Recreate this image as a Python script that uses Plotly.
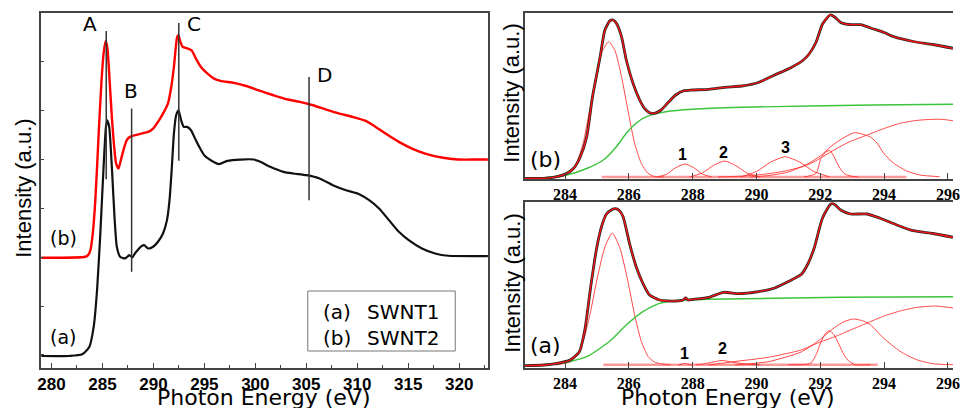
import plotly.graph_objects as go

# ---------------- Left panel: NEXAFS spectra (photon energy in eV, intensity a.u.) ----------------
ev_a = [279.0, 281.71, 283.01, 283.72, 284.14, 284.47, 284.79, 285.11, 285.34, 285.47, 285.66, 285.92,
        286.18, 286.41, 286.73, 287.22, 287.64, 287.93, 288.19, 288.51, 288.83, 289.09, 289.48, 289.97,
        290.45, 290.94, 291.33, 291.58, 291.81, 292.01, 292.23, 292.46, 292.72, 292.98, 293.30, 293.69,
        294.01, 294.50, 294.98, 295.63, 296.44, 297.25, 298.54, 299.84, 300.49, 301.46, 302.75, 303.72,
        305.02, 306.31, 307.60, 308.90, 310.19, 311.17, 312.14, 313.11, 314.08, 315.05, 316.35, 317.64,
        318.93, 321.84, 323.0]
int_a = [36, 36, 41, 64, 124, 234, 404, 604, 724, 744, 724, 604,
         454, 364, 334, 329, 339, 332, 344, 356, 366, 369, 359, 364,
         379, 404, 444, 504, 604, 704, 759, 774, 744, 724, 724, 714,
         694, 664, 639, 624, 612, 622, 626, 626, 619, 604, 589, 584,
         579, 569, 549, 534, 522, 504, 479, 444, 409, 384, 359, 344,
         337, 336, 336]

ev_b = [279.0, 283.33, 283.59, 283.82, 284.05, 284.30, 284.63, 284.89, 285.11, 285.31, 285.47, 285.66,
        285.92, 286.15, 286.34, 286.57, 286.80, 287.06, 287.38, 287.70, 288.19, 288.83, 289.48, 289.97,
        290.45, 290.94, 291.42, 291.75, 292.01, 292.20, 292.33, 292.46, 292.65, 292.88, 293.37, 293.75,
        294.17, 294.66, 295.31, 295.95, 296.60, 297.90, 299.19, 300.49, 301.78, 303.07, 304.37, 305.66,
        306.96, 308.25, 309.55, 310.84, 311.81, 312.78, 314.08, 315.37, 316.67, 318.28, 319.90, 321.84,
        323.0]
int_b = [331, 334, 339, 354, 404, 504, 704, 854, 944, 982, 964, 884,
         754, 664, 614, 599, 624, 654, 684, 694, 699, 704, 709, 719,
         739, 764, 794, 844, 904, 964, 994, 999, 979, 964, 959, 954,
         929, 904, 884, 869, 862, 856, 846, 832, 819, 807, 799, 789,
         776, 764, 754, 742, 724, 704, 679, 659, 644, 632, 626, 626,
         626]

marker_ev = [285.37, 287.86, 292.49, 305.27]
marker_labels = ["A", "B", "C", "D"]
sample_labels = ["(a)", "(b)"]
sample_names = ["SWNT1", "SWNT2"]

# ---------------- Right top panel (b): spectrum, background step, fitted components ----------------
ev_top = [282.72, 283.34, 283.75, 284.06, 284.27, 284.48, 284.68, 284.86, 285.10, 285.25, 285.41, 285.51,
          285.61, 285.77, 285.92, 286.13, 286.34, 286.49, 286.65, 286.80, 287.01, 287.21, 287.47, 287.73,
          287.99, 288.51, 289.02, 289.54, 290.06, 290.57, 291.09, 291.45, 291.65, 291.87, 292.07, 292.31,
          292.45, 292.64, 292.90, 293.26, 293.67, 294.00, 294.30, 294.91, 295.53, 296.16]
int_top = [0.5, 0.7, 2.3, 5.7, 10.7, 22.3, 42.3, 82, 122.3, 149, 158.3, 159,
           155.7, 142.3, 119, 95.7, 79, 70.7, 66.3, 65.7, 69, 75.7, 84, 88.3,
           89, 89.7, 91.7, 93, 96.5, 104, 111.5, 118.5, 125, 137, 155, 164,
           162, 156.5, 154.5, 154.3, 150, 146.5, 142.3, 137.5, 134.5, 130.7]
bg_ev_top = [282.72, 283.34, 284.06, 284.68, 285.20, 285.61, 285.92, 286.13, 286.44, 286.75, 287.16,
             287.99, 289.54, 291.61, 293.67, 296.16]
bg_top = [0.5, 1.3, 4, 10.5, 19, 32.3, 45.7, 53, 60.7, 64.7, 67.3, 69.7, 71.7, 73, 74, 74.7]

comp_top = [
    ([283.6, 283.94, 284.16, 284.36, 284.57, 284.77, 284.97, 285.17, 285.37, 285.57, 285.77, 285.97,
      286.18, 286.39, 286.6, 286.8, 287.1],
     [2, 2.5, 6, 16, 36, 69, 102, 128, 137.3, 128, 102.3, 69, 35.7, 15.7, 5.7, 2.5, 2]),
    ([286.9, 287.2, 287.45, 287.76, 288.05, 288.3, 288.6], [2, 5, 11, 15, 11, 5, 2]),
    ([287.9, 288.3, 288.65, 289.0, 289.35, 289.7, 290.1], [2, 6, 13.5, 18, 13.5, 6, 2]),
    ([289.5, 290.0, 290.45, 290.9, 291.35, 291.8, 292.3], [2, 7.5, 17, 22.3, 17, 7.5, 2]),
    ([291.5, 291.87, 292.02, 292.18, 292.31, 292.43, 292.59, 292.74, 292.90, 293.2],
     [2, 5.7, 20.7, 27.3, 28.3, 22.3, 12.3, 5.7, 3.3, 2]),
    ([289.8, 290.4, 291.0, 291.6, 292.0, 292.43, 293.07, 293.57, 293.78, 293.98, 294.29, 294.71,
      295.12, 295.74],
     [2, 3.5, 7, 15, 23, 35, 46.3, 42, 36, 26, 16, 8, 4, 2.3]),
    ([288.8, 289.6, 290.3, 290.9, 291.5, 291.81, 292.43, 292.9, 293.47, 294.0, 294.5, 295.0, 295.4,
      295.79, 296.16],
     [2, 3, 5, 8, 13, 17.3, 29, 37, 44, 50.5, 55.7, 58.5, 59.5, 59.7, 58.3]),
]
base_ev_top = [285.15, 294.7]
base_top = [2, 2]
peak_ids_top = ["1", "2", "3"]

# ---------------- Right bottom panel (a) ----------------
ev_bot = [282.72, 283.34, 283.75, 284.16, 284.45, 284.62, 284.80, 284.98, 285.15, 285.30, 285.45, 285.58,
          285.70, 285.82, 286.02, 286.23, 286.44, 286.65, 286.96, 287.47, 287.70, 287.78, 287.86, 287.99,
          288.51, 288.97, 289.44, 290.06, 290.57, 291.00, 291.40, 291.61, 291.81, 292.07, 292.33, 292.43,
          292.64, 292.95, 293.47, 293.88, 294.40, 294.91, 295.53, 296.16]
int_bot = [2.3, 3, 4.7, 8, 16.3, 38, 80, 118, 142, 154, 158, 159.3,
           157.5, 151.3, 124.7, 101.3, 84.7, 73, 68, 67, 68, 70, 68, 68.5,
           70.7, 75.7, 74.3, 76.3, 80, 86.5, 93.5, 104, 120, 150, 164, 164,
           158, 154, 154, 149.7, 143, 137.3, 134.5, 130.7]
bg_ev_bot = [282.72, 283.86, 284.68, 285.41, 285.92, 286.44, 286.96, 287.47, 288.51, 290.57, 292.64, 296.16]
bg_bot = [2.3, 4.7, 11.3, 27, 43, 56.3, 64.7, 67.3, 68.7, 69.7, 70.7, 71.3]

comp_bot = [
    ([283.7, 283.96, 284.16, 284.36, 284.57, 284.78, 284.99, 285.24, 285.48, 285.72, 285.97, 286.18,
      286.39, 286.6, 286.8, 287.0, 287.3],
     [3, 4.3, 6, 11.7, 26.7, 53.3, 86.7, 120, 135, 120, 86.7, 53.3, 26.7, 11.7, 6, 4.3, 3]),
    ([287.55, 287.68, 287.76, 287.84, 287.97], [3, 4, 4.8, 4, 3]),
    ([288.1, 288.5, 288.92, 289.3, 289.7, 290.1], [3, 5, 7.5, 5.5, 3.8, 3]),
    ([291.0, 291.5, 291.71, 291.87, 292.02, 292.15, 292.28, 292.43, 292.59, 292.74, 292.90, 293.1, 293.57],
     [3.3, 3.5, 5, 13.3, 26, 34, 37.3, 33.3, 23.3, 13.3, 6.7, 3.3, 3.3]),
    ([289.33, 290.37, 291.40, 291.92, 292.43, 292.75, 293.05, 293.35, 293.57, 293.98, 294.5, 295.02,
      295.53, 296.16],
     [3, 6.3, 16, 26.7, 40, 46.5, 49, 47, 43.3, 30, 16.7, 8.3, 4.3, 3.3]),
    ([288.5, 289.33, 290.37, 291.40, 291.92, 292.43, 292.95, 293.47, 294.0, 294.5, 295.0, 295.6, 296.16],
     [3, 6.5, 10.7, 18, 25, 31, 38, 45, 52, 57, 60.5, 62, 60]),
]
base_ev_bot = [285.2, 293.8]
base_bot = [3.3, 3.3]
peak_ids_bot = ["1", "2"]

# ---------------- Figure ----------------
W, H = 960, 408
fig = go.Figure()


def px(x):
    return x / W


def py(y):
    return 1 - y / H


def line(x, y, xa, ya, color, width, opacity=1.0, smooth=True):
    fig.add_trace(go.Scatter(
        x=x, y=y, mode="lines", xaxis=xa, yaxis=ya, opacity=opacity,
        line=dict(color=color, width=width, shape="spline" if smooth else "linear", smoothing=0.6),
        showlegend=False, hoverinfo="skip"))


# left panel
line(ev_a, int_a, "x", "y", "#111111", 2.2)
line(ev_b, int_b, "x", "y", "#ff0000", 2.4)

# right top
line(base_ev_top, base_top, "x2", "y2", "#ff9a9a", 2.5, smooth=False)
for cx, cy in comp_top:
    line(cx, cy, "x2", "y2", "#ff2a2a", 1.0, 0.85)
line(bg_ev_top, bg_top, "x2", "y2", "#3cc43c", 1.4)
line(ev_top, int_top, "x2", "y2", "#2a2a2a", 2.8)
line(ev_top, int_top, "x2", "y2", "#ff1010", 1.3)

# right bottom
line(base_ev_bot, base_bot, "x3", "y3", "#ff9a9a", 2.5, smooth=False)
for cx, cy in comp_bot:
    line(cx, cy, "x3", "y3", "#ff2a2a", 1.0, 0.85)
line(bg_ev_bot, bg_bot, "x3", "y3", "#3cc43c", 1.4)
line(ev_bot, int_bot, "x3", "y3", "#2a2a2a", 2.8)
line(ev_bot, int_bot, "x3", "y3", "#ff1010", 1.3)

axcol = "#444444"
serif_tick = dict(family="Liberation Serif, Times New Roman, serif", size=16, color="black", weight="bold")
xr_right = [282.73, 296.16]

fig.update_layout(
    width=W, height=H, margin=dict(l=0, r=0, t=0, b=0),
    paper_bgcolor="white", plot_bgcolor="white", showlegend=False,
    xaxis=dict(domain=[px(38), px(490)], anchor="y", range=[278.93, 322.82],
               showline=True, linecolor=axcol, linewidth=1.5, mirror=True,
               ticks="inside", ticklen=5, tickcolor=axcol, tick0=280, dtick=5,
               minor=dict(ticks="inside", ticklen=3, tickcolor=axcol, dtick=2.5, tick0=280),
               tickfont=dict(family="Liberation Sans, Arial, sans-serif", size=17, color="black", weight="bold"),
               showgrid=False, zeroline=False),
    yaxis=dict(domain=[py(368), py(13)], anchor="x", range=[0, 1066],
               showline=True, linecolor=axcol, linewidth=1.5, mirror=True,
               ticks="inside", ticklen=4, tickcolor=axcol, tick0=186, dtick=146.6,
               showticklabels=False, showgrid=False, zeroline=False),
    xaxis2=dict(domain=[px(527), 1], anchor="y2", range=xr_right,
                showline=True, linecolor=axcol, linewidth=1.5, mirror=True,
                ticks="inside", ticklen=6, tickcolor=axcol, tick0=284, dtick=2,
                ticklabeloverflow="allow",
                tickfont=serif_tick, showgrid=False, zeroline=False),
    yaxis2=dict(domain=[py(179), py(13)], anchor="x2", range=[0, 166],
                showline=True, linecolor=axcol, linewidth=1.5, mirror=False,
                ticks="", showticklabels=False, showgrid=False, zeroline=False),
    xaxis3=dict(domain=[px(527), 1], anchor="y3", range=xr_right,
                showline=True, linecolor=axcol, linewidth=1.5, mirror=True,
                ticks="inside", ticklen=6, tickcolor=axcol, tick0=284, dtick=2,
                ticklabeloverflow="allow",
                tickfont=serif_tick, showgrid=False, zeroline=False),
    yaxis3=dict(domain=[py(368), py(202)], anchor="x3", range=[0, 166],
                showline=True, linecolor=axcol, linewidth=1.5, mirror=False,
                ticks="", showticklabels=False, showgrid=False, zeroline=False),
)

shapes = []
marker_y = [(567, 1012), (289, 779), (622, 1036), (504, 874)]
for xv, (y0, y1) in zip(marker_ev, marker_y):
    shapes.append(dict(type="line", xref="x", yref="y", x0=xv, x1=xv, y0=y0, y1=y1,
                       line=dict(color="#333333", width=1.5)))
shapes.append(dict(type="rect", xref="paper", yref="paper", x0=px(308), x1=px(457), y0=py(351), y1=py(291),
                   line=dict(color="#777777", width=1), fillcolor="rgba(0,0,0,0)"))
fig.update_layout(shapes=shapes)

sans = "DejaVu Sans, sans-serif"
ann = []


def note(x, y, text, font, xref="paper", yref="paper", xanchor="center", yanchor="middle", angle=0):
    ann.append(dict(x=x, y=y, xref=xref, yref=yref, text=text, showarrow=False, font=font,
                    xanchor=xanchor, yanchor=yanchor, textangle=angle))


marker_pos = [(283.8, 1034), (287.8, 831), (293.95, 1034), (306.8, 879)]
for lab, (xv, yv) in zip(marker_labels, marker_pos):
    note(xv, yv, lab, dict(family=sans, size=20, color="black"), xref="x", yref="y")
note(281.17, 94, sample_labels[0], dict(family=sans, size=19, color="black"), xref="x", yref="y")
note(281.17, 391, sample_labels[1], dict(family=sans, size=19, color="black"), xref="x", yref="y")
# legend box text
for i, yy in enumerate([311.5, 338]):
    note(px(321), py(yy), sample_labels[i], dict(family=sans, size=20, color="black"), xanchor="left")
    note(px(366), py(yy), sample_names[i], dict(family=sans, size=20, color="black"), xanchor="left")
# axis titles
ytitle_font = dict(family="Liberation Sans, Arial, sans-serif", size=22, color="black")
for xx, yy in [(21, 188), (514, 93), (514, 283)]:
    note(px(xx), py(yy), "Intensity (a.u.)", ytitle_font, angle=-90)
for xx in [263, 732]:
    note(px(xx), py(397), "Photon Energy (eV)", dict(family=sans, size=22, color="black"))
# right panel labels
note(px(531), py(160), "(b)", dict(family=sans, size=22, color="black"), xanchor="left")
note(px(531), py(345), "(a)", dict(family=sans, size=22, color="black"), xanchor="left")
bold_num = dict(family="Liberation Sans, Arial, sans-serif", size=16, color="black", weight="bold")
for lab, (xx, yy) in zip(peak_ids_top, [(687, 154), (728, 152), (791, 147)]):
    note(px(xx), py(yy), lab, bold_num)
for lab, (xx, yy) in zip(peak_ids_bot, [(689, 353), (727, 348)]):
    note(px(xx), py(yy), lab, bold_num)
fig.update_layout(annotations=ann)

fig.write_html("out.html")
